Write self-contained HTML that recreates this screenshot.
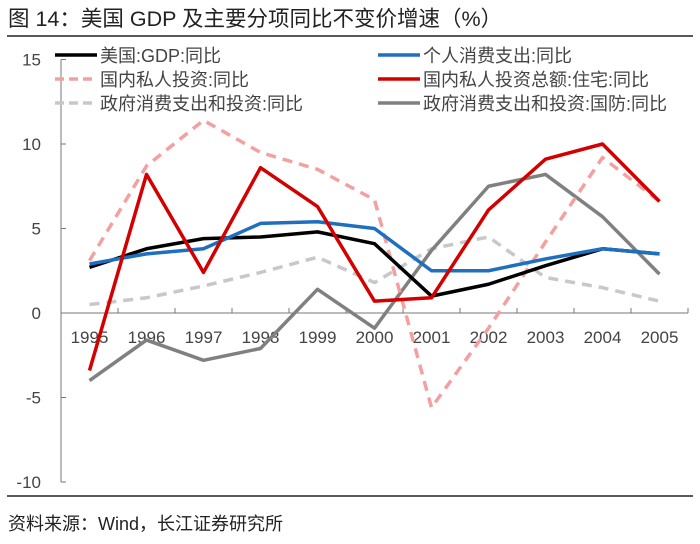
<!DOCTYPE html>
<html><head><meta charset="utf-8"><style>
body{margin:0;width:700px;height:544px;background:#fff;font-family:"Liberation Sans","Noto Sans CJK SC",sans-serif;overflow:hidden}
</style></head><body>
<svg width="700" height="544" style="position:absolute;left:0;top:0">
<text x="8" y="26" font-size="21.5" fill="#222">图  14：美国 GDP 及主要分项同比不变价增速（%）</text>
<line x1="7" y1="36" x2="693" y2="36" stroke="#222" stroke-width="1.5"/>
<line x1="7" y1="496" x2="693" y2="496" stroke="#222" stroke-width="1.5"/>
<text x="8" y="530" font-size="18" fill="#222">资料来源：Wind，长江证券研究所</text>
<g id="axes"></g><g id="series"></g><g id="legend"></g>
</svg>
<script>
const years=['1995','1996','1997','1998','1999','2000','2001','2002','2003','2004','2005'];
const yTicks=[15,10,5,0,-5,-10];
const gdp=[2.7,3.8,4.4,4.5,4.8,4.1,1.0,1.7,2.8,3.8,3.5];
const consumption=[2.9,3.5,3.8,5.3,5.4,5.0,2.5,2.5,3.2,3.8,3.5];
const investment=[3.1,8.7,11.4,9.5,8.5,6.7,-5.6,-0.9,4.2,9.2,6.6];
const residential=[-3.4,8.2,2.4,8.6,6.3,0.7,0.9,6.1,9.1,10.0,6.6];
const government=[0.5,0.9,1.6,2.4,3.3,1.8,3.8,4.5,2.1,1.5,0.7];
const defense=[-4.0,-1.6,-2.8,-2.1,1.4,-0.9,3.7,7.5,8.2,5.7,2.3];
const NS='http://www.w3.org/2000/svg';
const x0=61,step=57,yZero=313,ppu=16.9;
function xs(i){return x0+step*(i+0.5);}
function ys(v){return yZero-v*ppu;}
function mk(t,a,p){const e=document.createElementNS(NS,t);for(const k in a)e.setAttribute(k,a[k]);p.appendChild(e);return e;}
const ax=document.getElementById('axes');
const yl=mk('line',{x1:x0,y1:ys(15),x2:x0,y2:ys(-10),stroke:'#777','stroke-width':1},ax);


yTicks.forEach(v=>{
 const t=mk('line',{x1:x0,y1:ys(v),x2:x0+5,y2:ys(v),stroke:'#777'},ax);
 
 
 const l=mk('text',{x:x0-20,y:ys(v)+6,'font-size':17,fill:'#444','text-anchor':'end'},ax);
 l.textContent=v;
 
 
});
const xl=mk('line',{x1:x0,y1:yZero,x2:x0+step*years.length,y2:yZero,stroke:'#777'},ax);


years.forEach((y,i)=>{
 const t=mk('line',{x1:x0+step*(i+1),y1:yZero,x2:x0+step*(i+1),y2:yZero-5,stroke:'#777'},ax);
 
 
 const l=mk('text',{x:xs(i),y:yZero+30,'font-size':17,fill:'#444','text-anchor':'middle'},ax);
 l.textContent=y;
 
 
});
const defs=[
 {d:government,c:'#c8c8c8',dash:'10,7',n:'government-line',lab:'政府消费支出和投资:同比',lx:55,ly:103},
 {d:defense,c:'#808080',dash:'',n:'defense-line',lab:'政府消费支出和投资:国防:同比',lx:378,ly:103},
 {d:investment,c:'#f4a0a0',dash:'10,7',n:'investment-line',lab:'国内私人投资:同比',lx:55,ly:79},
 {d:gdp,c:'#000',dash:'',n:'gdp-line',lab:'美国:GDP:同比',lx:55,ly:55},
 {d:consumption,c:'#1f6fbf',dash:'',n:'consumption-line',lab:'个人消费支出:同比',lx:378,ly:55},
 {d:residential,c:'#d40000',dash:'',n:'residential-line',lab:'国内私人投资总额:住宅:同比',lx:378,ly:79}
];
const sg=document.getElementById('series'),lg=document.getElementById('legend');
defs.forEach(s=>{
 const p=mk('polyline',{points:s.d.map((v,i)=>xs(i)+','+ys(v)).join(' '),fill:'none',stroke:s.c,'stroke-width':3.5,'stroke-dasharray':s.dash,'stroke-linejoin':'round'},sg);
 
 
 const g=mk('g',{},lg);
 
 
 mk('line',{x1:s.lx,y1:s.ly,x2:s.lx+42,y2:s.ly,stroke:s.c,'stroke-width':3.5,'stroke-dasharray':s.dash?'9,5':''},g);
 const t=mk('text',{x:s.lx+45,y:s.ly+7,'font-size':18,fill:'#444'},g);
 t.textContent=s.lab;
});
</script>
</body></html>
